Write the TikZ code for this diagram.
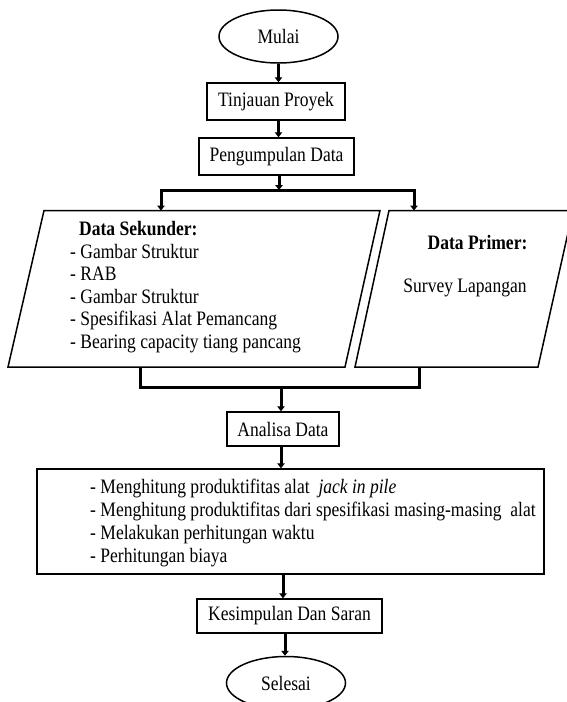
\documentclass[tikz,border=0pt]{standalone}
\usepackage{fontspec}
\setmainfont{Liberation Serif}[FakeStretch=0.855]
\usetikzlibrary{shapes.geometric,arrows.meta}
\tikzset{
  every node/.style={font=\fontsize{20.5pt}{22.8pt}\selectfont, inner sep=0pt},
  boxnode/.style={draw, line width=1.5pt, minimum height=37pt},
  termnode/.style={ellipse, draw, line width=1.5pt, minimum width=119pt, minimum height=53pt},
  pshape/.style={draw, line width=1.5pt, line join=miter},
  conn/.style={line width=3pt, line join=miter},
  arr/.style={conn, -{Triangle[width=7.5pt,length=5pt]}},
  txt/.style={anchor=base west},
  ctxt/.style={anchor=base}
}
\begin{document}
\begin{tikzpicture}[x=1pt,y=-1pt]
\useasboundingbox (0,0) rectangle (567,702);
% terminals and boxes
\node[termnode] (mulai) at (278.5,36.5) {Mulai};
\node[boxnode, minimum width=138pt] (tinj) at (276,101.5) {Tinjauan Proyek};
\node[boxnode, minimum width=155pt] (peng) at (276.5,156.5) {Pengumpulan Data};
% parallelograms
\draw[pshape] (8,367) coordinate (sekBL) -- (44,210.5) coordinate (sekTL)
  -- (380,210.5) coordinate (sekTR) -- (345,367) coordinate (sekBR) -- cycle;
\draw[pshape] (355,367) coordinate (priBL) -- (389,210.5) coordinate (priTL)
  -- (573,210.5) coordinate (priTR) -- (538,367) coordinate (priBR) -- cycle;
\node[txt] (sek0) at (79,235.5) {\textbf{Data Sekunder:}};
\node[txt] (sek1) at (70,258) {- Gambar Struktur};
\node[txt] (sek2) at (70,280.5) {- RAB};
\node[txt] (sek3) at (70,303) {- Gambar Struktur};
\node[txt] (sek4) at (70,325.5) {- Spesifikasi Alat Pemancang};
\node[txt] (sek5) at (70,348) {- Bearing capacity tiang pancang};
\node[ctxt] (pri0) at (477.5,249.3) {\textbf{Data Primer:}};
\node[ctxt] (pri1) at (465,292) {Survey Lapangan};
% analysis
\node[boxnode, minimum width=112pt, minimum height=34pt] (ana) at (283,429) {Analisa Data};
\node[draw, line width=1.5pt, minimum width=507pt, minimum height=105pt] (hit) at (290.5,521.5) {};
\node[txt] (hit1) at (90,493.5) {- Menghitung produktifitas alat \ \textit{jack in pile}};
\node[txt] (hit2) at (90,516.5) {- Menghitung produktifitas dari spesifikasi masing-masing \ alat};
\node[txt] (hit3) at (90,539.5) {- Melakukan perhitungan waktu};
\node[txt] (hit4) at (90,562.5) {- Perhitungan biaya};
\node[boxnode, minimum width=185pt, minimum height=34pt] (kes) at (289.5,616) {Kesimpulan Dan Saran};
\node[termnode] (sel) at (286,683) {Selesai};
% connector points
\coordinate (split) at (279,190);
\coordinate (sekIn) at (161,210.5);
\coordinate (priIn) at (414,210.5);
\coordinate (sekOut) at (140,367);
\coordinate (priOut) at (419,367);
\coordinate (merge) at (281,387);
% connectors
\draw[arr] (mulai.south) -- (mulai.south |- tinj.north);
\draw[arr] (mulai.south |- tinj.south) -- (mulai.south |- peng.north);
\draw[arr] (split |- peng.south) -- (split);
\draw[arr] (split) -| (sekIn);
\draw[arr] (split) -| (priIn);
\draw[conn] (sekOut) |- (merge) -| (priOut);
\draw[arr] (merge) -- (merge |- ana.north);
\draw[arr] (merge |- ana.south) -- (merge |- hit.north);
\draw[arr] ([xshift=2pt]merge |- hit.south) -- ([xshift=2pt]merge |- kes.north);
\draw[arr] ([xshift=4pt]merge |- kes.south) -- ([xshift=4pt]merge |- sel.north);
\end{tikzpicture}
\end{document}
